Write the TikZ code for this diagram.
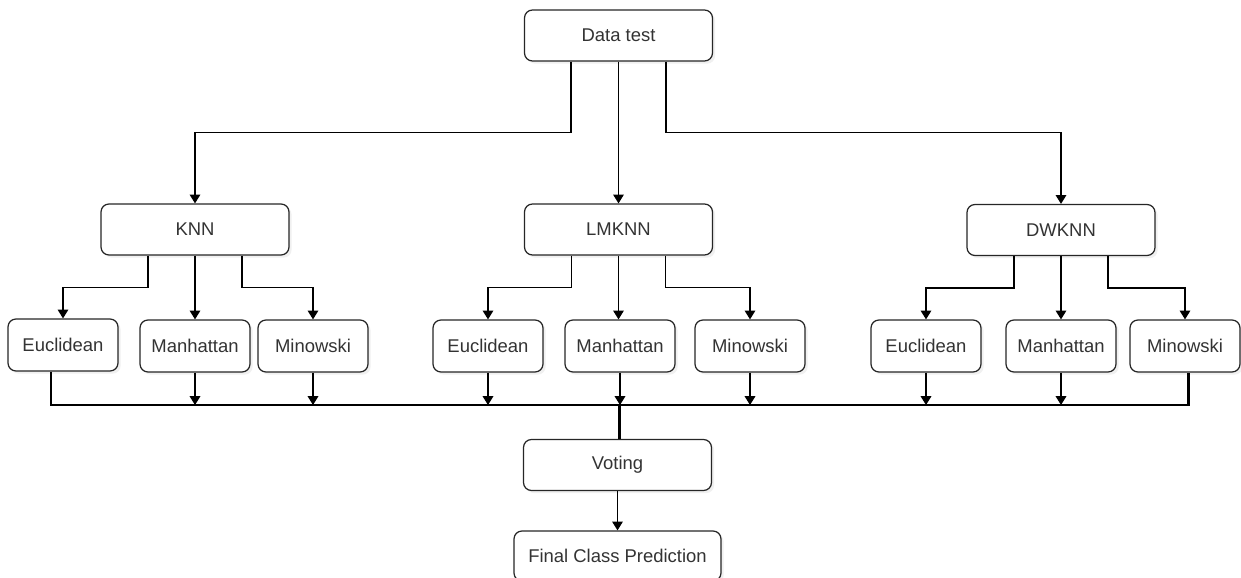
\documentclass[tikz,border=0pt]{standalone}
\usepackage{fontspec}
\setmainfont{Liberation Sans}
\usetikzlibrary{arrows.meta,shadows}

\begin{document}
\begin{tikzpicture}[
x=0.02cm, y=-0.02cm,
font=\fontsize{10.5}{12}\selectfont,
box/.style={draw=black!85, line width=0.7pt, rounded corners=4.5pt, fill=white,
  text=black!80, drop shadow={opacity=0.12, shadow xshift=1.5pt, shadow yshift=-1.5pt}},
bigbox/.style={box, minimum width=3.76cm, minimum height=1.02cm},
smallbox/.style={box, minimum width=2.2cm, minimum height=1.04cm},
link/.style={line width=0.75pt, -{Triangle[length=5pt,width=6pt]}},
busline/.style={line width=1.7pt},
]
\useasboundingbox (0,0) rectangle (1241,578);
% verteilung der testdaten
\node[bigbox] (datatest) at (618.5,35.5) {Data test};
\node[bigbox] (knn) at (195,229.5) {KNN};
\node[bigbox] (lmknn) at (618.5,229.5) {LMKNN};
\node[bigbox] (dwknn) at (1061,230) {DWKNN};
% distanzmasse
\node[smallbox] (knneuc) at (63,345) {Euclidean};
\node[smallbox] (knnman) at (195,346) {Manhattan};
\node[smallbox] (knnmin) at (313,346) {Minowski};
\node[smallbox] (lmeuc) at (488,346) {Euclidean};
\node[smallbox] (lmman) at (620,346) {Manhattan};
\node[smallbox] (lmmin) at (750,346) {Minowski};
\node[smallbox] (dweuc) at (926,346) {Euclidean};
\node[smallbox] (dwman) at (1061,346) {Manhattan};
\node[smallbox] (dwmin) at (1185,346) {Minowski};
\node[bigbox] (voting) at (617.5,465) {Voting};
\node[box, minimum width=4.14cm, minimum height=1cm] (final) at (617.5,556) {Final Class Prediction};
\coordinate (bus) at (619,405);

\draw[link] ([shift={(-47.5,0)}]datatest.south) |- ++(0,71) -| (knn.north);
\draw[link] (datatest.south) -- (lmknn.north);
\draw[link] ([shift={(47.5,0)}]datatest.south) |- ++(0,71) -| (dwknn.north);

\foreach \p/\a/\b/\c in {knn/knneuc/knnman/knnmin, lmknn/lmeuc/lmman/lmmin, dwknn/dweuc/dwman/dwmin}{
  \draw[link] ([shift={(-47,0)}]\p.south) |- ++(0,32) -| (\a.north);
  \draw[link] (\p.south) -- (\b.north -| \p.south);
  \draw[link] ([shift={(47,0)}]\p.south) |- ++(0,32) -| (\c.north);
}

% sammelleitung
\draw[busline] ([shift={(-12,0)}]knneuc.south) |- (bus) -| ([shift={(3,0)}]dwmin.south);
\foreach \n in {knnman, knnmin, lmeuc, lmman, lmmin, dweuc, dwman}
  \draw[link] (\n.south) -- (\n.south |- bus);
\draw[busline] (bus) -- (voting.north -| bus);
\draw[link] (voting.south) -- (final.north);
\end{tikzpicture}
\end{document}
